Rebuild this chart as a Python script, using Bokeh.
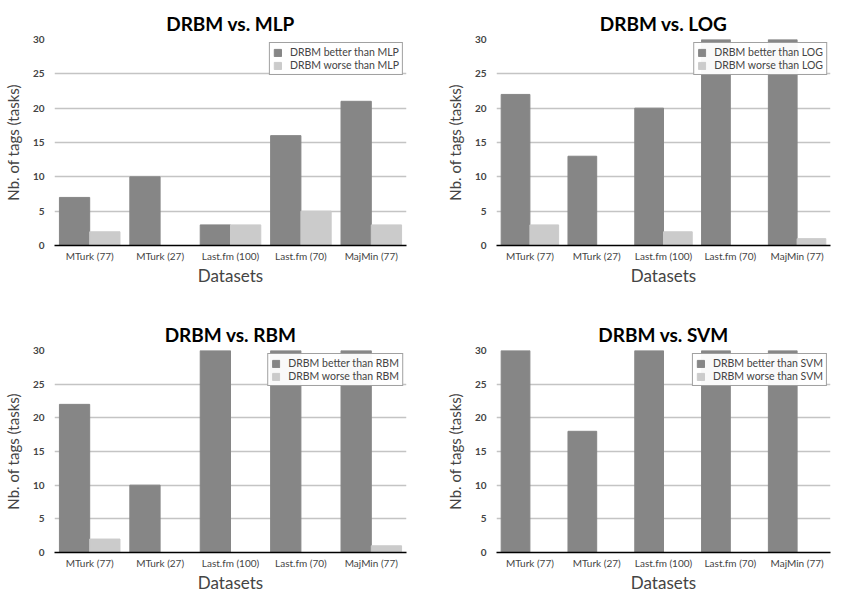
from bokeh.plotting import figure
from bokeh.models import FactorRange, Range1d, Legend, LegendItem, ColumnDataSource
from bokeh.transform import dodge
from bokeh.layouts import column, row
from bokeh.embed import file_html
from bokeh.resources import INLINE

categories = ["MTurk (77)", "MTurk (27)", "Last.fm (100)", "Last.fm (70)", "MajMin (77)"]
y_ticks = [0, 5, 10, 15, 20, 25, 30]

mlp_better = [7, 10, 3, 16, 21]
mlp_worse = [2, 0, 3, 5, 3]
log_better = [22, 13, 20, 30, 30]
log_worse = [3, 0, 2, 0, 1]
rbm_better = [22, 10, 30, 30, 30]
rbm_worse = [2, 0, 0, 0, 1]
svm_better = [30, 18, 30, 30, 30]
svm_worse = [0, 0, 0, 0, 0]

DARK = "#868686"
LIGHT = "#cbcbcb"
FONT = "Lato"


def panel(name, better, worse, fw, fh, bl, br, bt, bb):
    src = ColumnDataSource(dict(cat=categories, better=better, worse=worse))
    p = figure(x_range=FactorRange(*categories), y_range=Range1d(0, 30),
               frame_width=fw, frame_height=fh, output_backend="svg",
               toolbar_location=None, title="DRBM vs. " + name,
               min_border_left=bl, min_border_right=br,
               min_border_top=bt, min_border_bottom=bb)
    r1 = p.vbar(x=dodge("cat", -0.215, range=p.x_range), top="better", width=0.43,
                source=src, fill_color=DARK, line_color=DARK)
    r2 = p.vbar(x=dodge("cat", 0.215, range=p.x_range), top="worse", width=0.43,
                source=src, fill_color=LIGHT, line_color=LIGHT)
    p.title.text_font = FONT
    p.title.text_font_size = "19px"
    p.title.text_font_style = "bold"
    p.title.align = "center"
    p.title.text_color = "black"
    p.outline_line_color = None
    p.background_fill_color = "white"
    p.border_fill_color = "white"

    p.xgrid.grid_line_color = None
    p.ygrid.grid_line_color = "#c4c4c4"
    p.ygrid.grid_line_width = 1.5
    p.yaxis.ticker = y_ticks

    p.xaxis.axis_line_color = "black"
    p.xaxis.axis_line_width = 1.5
    p.xaxis.major_tick_line_color = None
    p.xaxis.minor_tick_line_color = None
    p.xaxis.major_tick_out = 0
    p.xaxis.major_tick_in = 0
    p.xaxis.major_label_text_font = FONT
    p.xaxis.major_label_text_font_size = "10px"
    p.xaxis.major_label_standoff = 4
    p.xaxis.axis_label = "Datasets"
    p.xaxis.axis_label_text_font = FONT
    p.xaxis.axis_label_text_font_size = "17px"
    p.xaxis.axis_label_text_font_style = "normal"
    p.xaxis.axis_label_standoff = 0

    p.yaxis.axis_line_color = None
    p.yaxis.major_tick_line_color = None
    p.yaxis.minor_tick_line_color = None
    p.yaxis.major_tick_out = 0
    p.yaxis.major_tick_in = 0
    p.yaxis.major_label_text_font = FONT
    p.yaxis.major_label_text_font_size = "10px"
    p.yaxis.major_label_text_font_style = "bold"
    p.yaxis.major_label_standoff = 10
    p.yaxis.axis_label = "Nb. of tags (tasks)"
    p.yaxis.axis_label_text_font = FONT
    p.yaxis.axis_label_text_font_size = "15px"
    p.yaxis.axis_label_text_font_style = "normal"
    p.yaxis.axis_label_standoff = 8

    legend = Legend(items=[LegendItem(label="DRBM better than " + name, renderers=[r1]),
                           LegendItem(label="DRBM worse than " + name, renderers=[r2])],
                    location="top_right")
    legend.border_line_color = "#444444"
    legend.border_line_dash = "dashed"
    legend.border_line_width = 1
    legend.label_text_font = FONT
    legend.label_text_font_size = "10.5px"
    legend.glyph_width = 9
    legend.glyph_height = 9
    legend.label_height = 10
    legend.spacing = 1
    legend.padding = 3
    legend.margin = 3
    legend.label_standoff = 8
    p.add_layout(legend)
    return p


p1 = panel("MLP", mlp_better, mlp_worse, 352, 206, 44, 16, 39, 40)
p2 = panel("LOG", log_better, log_worse, 334, 206, 74, 4, 39, 40)
p3 = panel("RBM", rbm_better, rbm_worse, 352, 202, 44, 16, 62, 40)
p4 = panel("SVM", svm_better, svm_worse, 334, 202, 74, 4, 62, 40)

layout = column(row(p1, p2), row(p3, p4))
open("out.html", "w").write(file_html(layout, INLINE))
